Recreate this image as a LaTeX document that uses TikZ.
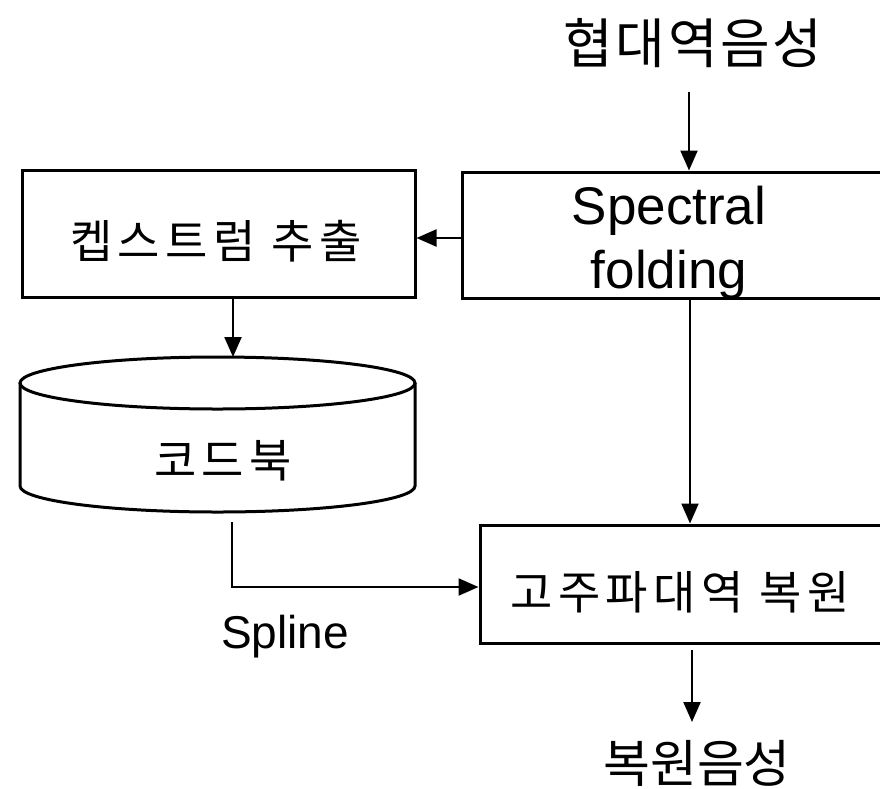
\documentclass[tikz,border=0pt]{standalone}
\usepackage{fontspec}
\setmainfont{Liberation Sans}
\newfontfamily\kr{Noto Sans CJK KR}[LetterSpace=12]
\newfontfamily\krn{Noto Sans CJK KR}[LetterSpace=5]
\newfontfamily\kro{Noto Sans CJK KR}
\usetikzlibrary{arrows.meta}
\begin{document}
\begin{tikzpicture}[x=1pt,y=-1pt,
  box/.style={draw, line width=3pt, inner sep=0pt},
  arr/.style={line width=2.2pt, -{Triangle[length=20pt,width=17pt]}},
  krL/.style={font=\krn\fontsize{54}{60}\selectfont, inner sep=0pt},
  krB/.style={font=\kro\fontsize{51}{60}\selectfont, inner sep=0pt},
  krM/.style={font=\kr\fontsize{46}{54}\selectfont, inner sep=0pt},
  latL/.style={font=\fontsize{53}{64}\selectfont, align=center, inner sep=0pt},
  latM/.style={font=\fontsize{46}{54}\selectfont, inner sep=0pt},
]
\useasboundingbox (0,0) rectangle (880,788);
% boxes
\node[box, minimum width=420pt, minimum height=126pt] (sf) at (672,235) {};
\node[box, minimum width=393pt, minimum height=127pt] (cep) at (218.5,233.5) {};
\node[box, minimum width=402pt, minimum height=118pt] (rest) at (681,584) {};
% codebook cylinder
\draw[line width=3pt] (20,383) -- (20,486) arc[start angle=180, end angle=360, x radius=197.5pt, y radius=26pt] -- (415,383);
\draw[line width=3pt] (217.5,383) ellipse [x radius=197.5pt, y radius=26pt];
\coordinate (cbtop) at (233,357);
\coordinate (cbbot) at (232,522);
% texts
\node[krL] (in) at (693,43) {협대역음성};
\node[latL] (sft) at (669,243) {Spectral\\folding};
\node[krM] (cept) at (216,241) {켑스트럼 추출};
\node[krM] (cb) at (223,461) {코드북};
\node[krM] (restt) at (680,592) {고주파대역 복원};
\node[latM] (spl) at (285,637) {Spline};
\node[krB] (out) at (697,763) {복원음성};
% connectors
\coordinate (a1) at (689,92);
\draw[arr] (a1) -- (sf.north -| a1);
\coordinate (y1) at (0,238);
\draw[arr] (sf.west |- y1) -- (cep.east |- y1);
\coordinate (x1) at (233,0);
\draw[arr] (cep.south -| x1) -- (cbtop);
\coordinate (y2) at (0,587);
\draw[arr] (cbbot) |- (rest.west |- y2);
\coordinate (x2) at (690,0);
\draw[arr] (sf.south -| x2) -- (rest.north -| x2);
\coordinate (ob) at (692,722);
\draw[arr, shorten <=5pt] (rest.south -| ob) -- (ob);
\end{tikzpicture}
\end{document}
